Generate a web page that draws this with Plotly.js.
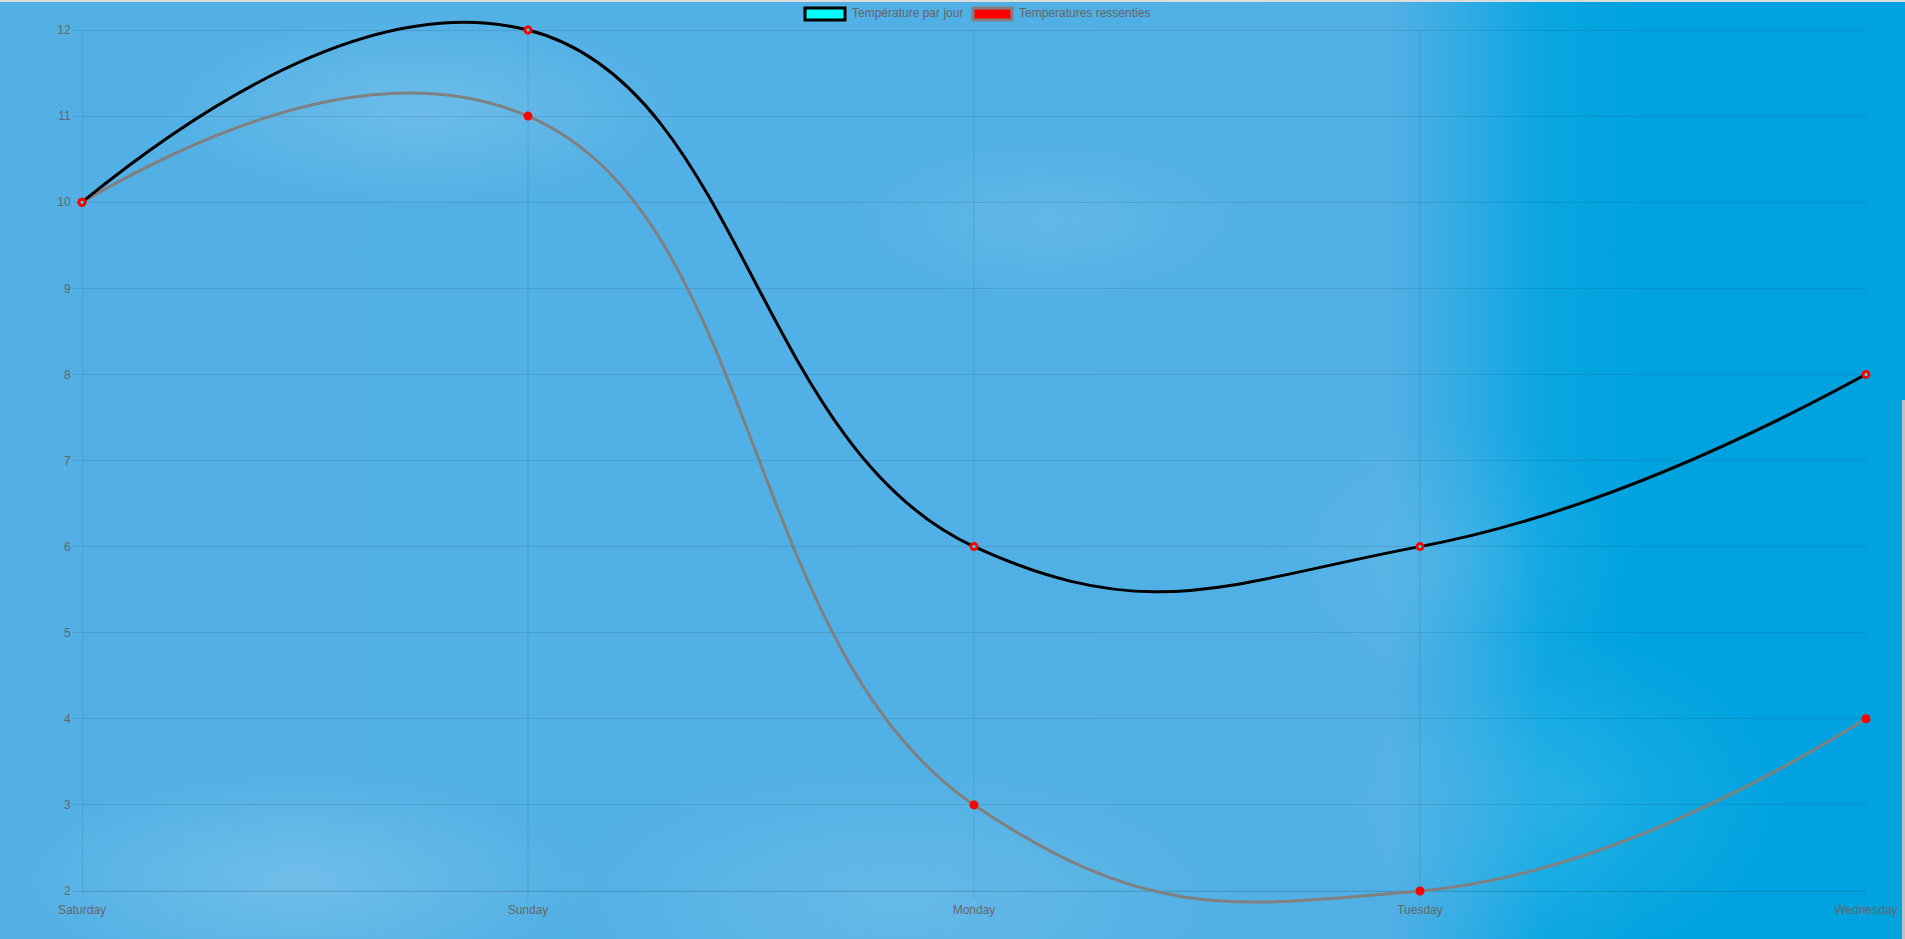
<!DOCTYPE html>
<html>
<head>
<meta charset="utf-8">
<script src="https://cdn.plot.ly/plotly-3.0.1.min.js"></script>
<style>
  html, body { margin: 0; padding: 0; width: 1905px; height: 939px; overflow: hidden; }
  body {
    background:
      radial-gradient(ellipse 380px 140px at 420px 110px, rgba(255,255,255,0.16), rgba(255,255,255,0) 70%),
      radial-gradient(ellipse 300px 120px at 1050px 220px, rgba(255,255,255,0.10), rgba(255,255,255,0) 70%),
      radial-gradient(ellipse 420px 160px at 300px 880px, rgba(255,255,255,0.18), rgba(255,255,255,0) 70%),
      radial-gradient(ellipse 500px 200px at 900px 900px, rgba(255,255,255,0.12), rgba(255,255,255,0) 70%),
      radial-gradient(ellipse 320px 240px at 1560px 800px, rgba(255,255,255,0.12), rgba(255,255,255,0) 70%),
      radial-gradient(ellipse 260px 200px at 1450px 560px, rgba(255,255,255,0.08), rgba(255,255,255,0) 70%),
      linear-gradient(90deg, #52b0e5 0%, #50b0e5 73%, #30abe4 77%, #0aa6e2 81%, #00a3e0 86%, #00a3e0 100%);
  }
  #chart { position: absolute; left: 0; top: 0; width: 1905px; height: 939px; }
  #topline { position: absolute; left: 0; top: 0; width: 1905px; height: 2px; background: #dcdcdc; z-index: 5; }
  #scroll { position: absolute; right: 0; top: 400px; width: 3px; height: 539px; background: #c1c1c1; z-index: 5; }
</style>
</head>
<body>
<div id="chart"></div>
<div id="topline"></div>
<div id="scroll"></div>
<script>
// ---- data ----
var days = ["Saturday", "Sunday", "Monday", "Tuesday", "Wednesday"];
var tempParJour = [10, 12, 6, 6, 8];
var tempRessenties = [10, 11, 3, 2, 4];
var legendLabels = ["Température par jour", "Temperatures ressenties"];
var yTicks = [2, 3, 4, 5, 6, 7, 8, 9, 10, 11, 12];

// ---- layout geometry ----
var W = 1905, H = 939;
var yMin = 2, yMax = 12;
var unitPx = 86.1;            // pixels per degree on the value axis
var pad = 14;                 // extra room (px) so the smoothed lines are not cut at 2 and 12
var padU = pad / unitPx;
var tickU = 8 / unitPx;       // length of the category tick marks below the axis
var M = { l: 82, r: 39, t: 30 - pad, b: 48 - pad };
var PW = W - M.l - M.r, PH = H - M.t - M.b;
function px(x) { return (x - M.l) / PW; }
function py(y) { return (H - M.b - y) / PH; }

var grid = 'rgba(0,0,0,0.1)';
var axisCol = 'rgba(0,0,0,0.16)';
var font = { family: 'Arial, "Liberation Sans", Helvetica, sans-serif', size: 12, color: '#666' };

var blackTrace = {
  x: days, y: tempParJour, type: 'scatter', mode: 'lines+markers',
  name: legendLabels[0], showlegend: false,
  line: { color: '#000000', width: 3, shape: 'spline', smoothing: 1.3 },
  marker: { size: 6, color: '#00ffff', line: { color: '#ff0000', width: 3 } },
  cliponaxis: false
};
var grayTrace = {
  x: days, y: tempRessenties, type: 'scatter', mode: 'lines+markers',
  name: legendLabels[1], showlegend: false,
  line: { color: '#808080', width: 3, shape: 'spline', smoothing: 1.3 },
  marker: { size: 6, color: '#ff0000', line: { color: '#ff0000', width: 3 } },
  cliponaxis: false
};
// gray first so the black line sits on top, as in the reference
var traces = [grayTrace, blackTrace];

// vertical grid lines (with their tick stubs) for each category, bounded by the value range
var shapes = days.map(function (d, i) {
  return { type: 'line', xref: 'x', yref: 'y', x0: d, x1: d, y0: yMin - tickU, y1: yMax,
           line: { color: i === 0 ? axisCol : grid, width: 1 }, layer: 'below' };
});
// bottom axis line
shapes.push({ type: 'line', xref: 'x', yref: 'y', x0: days[0], x1: days[days.length - 1], y0: yMin, y1: yMin,
              line: { color: 'rgba(0,0,0,0.07)', width: 1 }, layer: 'below' });
// legend boxes
shapes.push({ type: 'rect', xref: 'paper', yref: 'paper', x0: px(805), x1: px(845), y0: py(8), y1: py(20),
              fillcolor: '#00ffff', line: { color: '#000000', width: 3 }, layer: 'above' });
shapes.push({ type: 'rect', xref: 'paper', yref: 'paper', x0: px(973), x1: px(1012), y0: py(8), y1: py(20),
              fillcolor: '#ff0000', line: { color: '#808080', width: 3 }, layer: 'above' });

var layout = {
  width: W, height: H,
  margin: M,
  paper_bgcolor: 'rgba(0,0,0,0)',
  plot_bgcolor: 'rgba(0,0,0,0)',
  font: font,
  showlegend: false,
  hovermode: false,
  xaxis: {
    type: 'category', range: [0, days.length - 1],
    showgrid: false, showline: false, zeroline: false,
    ticks: 'outside', ticklen: 8, tickcolor: 'rgba(0,0,0,0)',
    ticklabelstandoff: -pad,
    tickfont: font, fixedrange: true
  },
  yaxis: {
    range: [yMin - padU, yMax + padU], tickmode: 'array', tickvals: yTicks,
    ticktext: yTicks.map(String),
    showgrid: true, gridcolor: grid, gridwidth: 1,
    showline: false, zeroline: false,
    ticks: 'outside', ticklen: 8, tickcolor: grid, tickwidth: 1,
    tickfont: font, fixedrange: true
  },
  shapes: shapes,
  annotations: [
    { xref: 'paper', yref: 'paper', x: px(850), y: py(13.5), xanchor: 'left', yanchor: 'middle',
      text: legendLabels[0], showarrow: false, font: font },
    { xref: 'paper', yref: 'paper', x: px(1017), y: py(13.5), xanchor: 'left', yanchor: 'middle',
      text: legendLabels[1], showarrow: false, font: font }
  ]
};

Plotly.newPlot('chart', traces, layout, { displayModeBar: false, staticPlot: true });
</script>
</body>
</html>
